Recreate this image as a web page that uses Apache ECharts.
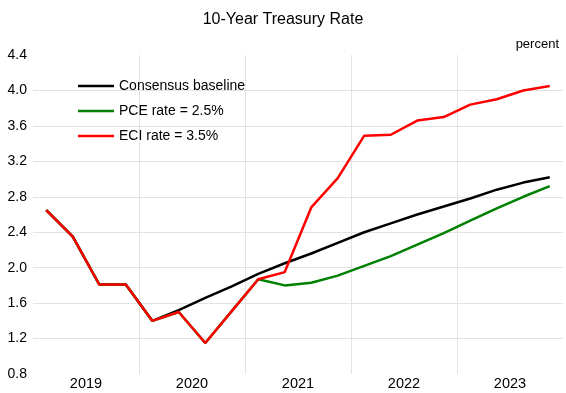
<!DOCTYPE html>
<html>
<head>
<meta charset="utf-8">
<script src="https://cdn.jsdelivr.net/npm/echarts@6/dist/echarts.min.js"></script>
<style>html,body{margin:0;padding:0;background:#fff;}#c{width:566px;height:393px;}</style>
</head>
<body>
<div id="c"></div>
<script>
var years = ['2019', '2020', '2021', '2022', '2023'];
var quartersPerYear = 4;
var yTicks = [0.8, 1.2, 1.6, 2.0, 2.4, 2.8, 3.2, 3.6, 4.0, 4.4];
var baseline = [2.65, 2.35, 1.81, 1.81, 1.40, 1.52, 1.66, 1.79, 1.93, 2.05, 2.16, 2.28, 2.40, 2.50, 2.60, 2.69, 2.78, 2.88, 2.96, 3.02];
var pce = [2.65, 2.35, 1.81, 1.81, 1.40, 1.50, 1.15, 1.51, 1.87, 1.80, 1.83, 1.91, 2.02, 2.13, 2.26, 2.39, 2.53, 2.67, 2.80, 2.92];
var eci = [2.65, 2.35, 1.81, 1.81, 1.40, 1.50, 1.15, 1.51, 1.87, 1.95, 2.68, 3.01, 3.49, 3.50, 3.66, 3.70, 3.84, 3.90, 4.00, 4.05];

function pts(arr) { return arr.map(function (v, i) { return [i + 0.5, v]; }); }
var nQ = years.length * quartersPerYear;
var gray = '#e3e3e3';
var hColors = yTicks.map(function (t, i) { return (i === 0 || i === yTicks.length - 1) ? 'transparent' : gray; });
var vColors = [];
for (var k = 0; k <= years.length; k++) vColors.push((k === 0 || k === years.length) ? 'transparent' : gray);

var chart = echarts.init(document.getElementById('c'), null, { renderer: 'canvas' });
chart.setOption({
  animation: false,
  backgroundColor: '#fff',
  textStyle: { fontFamily: 'Liberation Sans, Arial, sans-serif' },
  title: [
    { text: '10-Year Treasury Rate', left: 'center', top: 7, textStyle: { fontSize: 16, fontWeight: 'normal', color: '#000' } },
    { text: 'percent', right: 2, top: 33, textStyle: { fontSize: 13, fontWeight: 'normal', color: '#000' } }
  ],
  legend: {
    left: 73, top: 74, orient: 'vertical', itemWidth: 36, itemHeight: 14, itemGap: 11,
    icon: 'path://M0,6 L36,6 L36,8.5 L0,8.5 Z',
    textStyle: { fontSize: 14, color: '#000' },
    data: ['Consensus baseline', 'PCE rate = 2.5%', 'ECI rate = 3.5%']
  },
  grid: { left: 33, right: 3, top: 55, bottom: 19 },
  xAxis: [
    {
      type: 'value', min: 0, max: nQ, interval: quartersPerYear,
      axisLine: { show: false }, axisTick: { show: false }, axisLabel: { show: false },
      splitLine: { show: true, lineStyle: { color: vColors, width: 1 } }
    },
    {
      type: 'value', min: 0, max: nQ, interval: quartersPerYear / 2, position: 'bottom',
      axisLine: { show: false }, axisTick: { show: false }, splitLine: { show: false },
      axisLabel: {
        fontSize: 14.5, color: '#000', margin: 2,
        formatter: function (v) {
          var idx = (v - quartersPerYear / 2) / quartersPerYear;
          return (Number.isInteger(idx) && years[idx]) ? years[idx] : '';
        }
      }
    }
  ],
  yAxis: {
    type: 'value', min: yTicks[0], max: yTicks[yTicks.length - 1], interval: 0.4,
    axisLine: { show: false }, axisTick: { show: false },
    axisLabel: { fontSize: 14, color: '#000', margin: 6, formatter: function (v) { return v.toFixed(1); } },
    splitLine: { show: true, lineStyle: { color: hColors, width: 1 } }
  },
  series: [
    { name: 'Consensus baseline', type: 'line', data: pts(baseline), symbol: 'none', lineStyle: { color: '#000', width: 2.5 }, itemStyle: { color: '#000' } },
    { name: 'PCE rate = 2.5%', type: 'line', data: pts(pce), symbol: 'none', lineStyle: { color: '#008000', width: 2.5 }, itemStyle: { color: '#008000' } },
    { name: 'ECI rate = 3.5%', type: 'line', data: pts(eci), symbol: 'none', lineStyle: { color: '#ff0000', width: 2.5 }, itemStyle: { color: '#ff0000' } }
  ]
});
</script>
</body>
</html>
